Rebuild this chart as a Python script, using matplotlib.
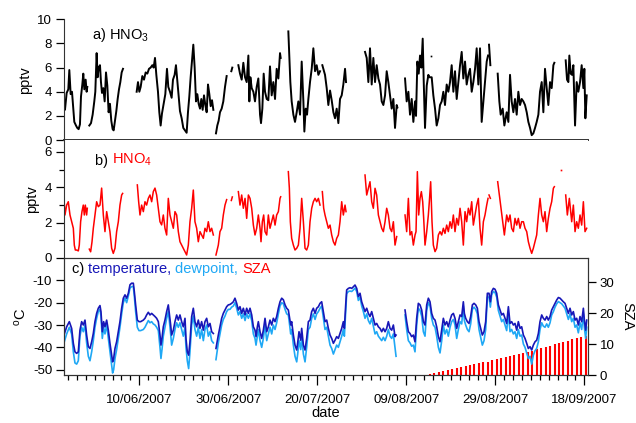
import numpy as np
import matplotlib
matplotlib.use("Agg")
import matplotlib.pyplot as plt
import matplotlib.dates as mdates
from matplotlib.ticker import FixedLocator

plt.rcParams["font.family"] = ["Liberation Sans", "DejaVu Sans"]
plt.rcParams["mathtext.fontset"] = "custom"
plt.rcParams["mathtext.rm"] = "Liberation Sans"
plt.rcParams["mathtext.default"] = "regular"
plt.rcParams["axes.unicode_minus"] = False

nan = np.nan
# days after 10/06/2007 00:00
base = mdates.date2num(np.datetime64("2007-06-10"))

hno3_day = [
    -16.92, -16.70, -16.32, -15.95, -15.72, -15.42, -15.12, -14.82, -14.60, -14.22,
    -13.93, -13.63, -13.33, -13.10, -12.80, -12.58, -12.35, -12.05, -11.83, -11.68, -11.45,
    -11.23, -10.85, -10.48, -10.11, -9.88, -9.58, -9.36, -9.13, -8.83, -8.61,
    -8.38, -8.08, -7.78, -7.48, -7.18, -6.89, -6.59, -6.29, -5.99, -5.76,
    -5.46, -5.16, -4.86, -4.56, -4.26, -3.96, -3.66, -2.0,
    -0.59, -0.29, 0.01, 0.31, 0.68, 1.06, 1.43, 1.81, 2.18, 2.55,
    2.93, 3.23, 3.53, 3.83, 4.20, 4.50, 4.80, 5.10, 5.47, 5.85,
    6.22, 6.52, 6.90, 7.27, 7.57, 7.94, 8.24, 8.54, 8.84, 9.14,
    9.52, 9.89, 10.27, 10.64, 10.94, 11.24, 11.54, 11.84, 12.14, 12.44,
    12.74, 13.04, 13.34, 13.64, 13.94, 14.24, 14.54, 14.84, 15.14, 15.44,
    15.74, 16.04, 16.34, 16.64, 16.9,
    17.23, 17.53, 17.83, 18.13, 18.51, 18.88, 19.26, 19.63, 20.2,
    20.68, 20.90, 21.5,
    22.26, 22.63, 23.01, 23.38, 23.76, 24.13, 24.51, 24.73, 24.96, 25.26,
    25.63, 26.00, 26.38, 26.75, 27.13, 27.35, 27.65, 27.95, 28.25, 28.63,
    29.00, 29.37, 29.75, 30.12, 30.50, 30.87, 31.25, 31.62, 31.77, 32.6,
    33.49, 33.72, 33.94, 34.24, 34.62, 34.99, 35.37, 35.74, 36.12, 36.49,
    36.87, 37.09, 37.39, 37.69, 37.99, 38.36, 38.74, 39.11, 39.49, 39.86,
    40.24, 40.61, 40.85,
    41.13, 41.43, 41.73, 42.11, 42.48, 42.86, 43.23, 43.61, 43.98, 44.35,
    44.73, 45.10, 45.48, 45.85, 46.23, 46.45, 48.5,
    50.72, 51.10, 51.47, 51.84, 52.22, 52.59, 52.97, 53.34, 53.72, 54.09,
    54.47, 54.84, 55.22, 55.59, 55.96, 56.34, 56.71, 57.09, 57.46, 57.84,
    57.99, 58.8,
    59.71, 60.08, 60.46, 60.83, 61.21, 61.58, 61.96, 62.18, 62.48, 62.78,
    63.08, 63.38, 63.68, 63.90, 64.20, 64.58, 64.95, 65.17, 65.70, 66.07,
    66.45, 66.82, 67.20, 67.57, 67.95, 68.32, 68.69, 69.07, 69.44, 69.82,
    70.19, 70.57, 70.94, 71.32, 71.69, 72.07, 72.44, 72.81, 73.19, 73.56,
    73.94, 74.31, 74.69, 75.06, 75.44, 75.81, 76.18, 76.56, 76.93, 77.31,
    77.68, 78.06, 78.36, 78.47, 78.58, 78.88, 79.7,
    80.53, 80.90, 81.20, 81.65, 82.03, 82.55, 82.93, 83.30, 83.67, 84.05,
    84.42, 84.80, 85.17, 85.55, 85.92, 86.30, 86.67, 87.05, 87.42, 87.80,
    88.17, 88.54, 88.92, 89.29, 89.67, 90.04, 90.42, 90.79, 91.16, 91.54,
    91.91, 92.29, 92.66, 93.04, 93.26, 94.5,
    95.81, 96.11, 96.41, 96.63, 96.93, 97.23, 97.53, 97.91, 98.28, 98.65,
    99.03, 99.40, 99.78, 100.00, 100.23, 100.53,
]
hno3_ppt = [
    3.0, 2.5, 3.9, 4.2, 5.8, 3.8, 4.0, 2.6, 1.5, 1.2,
    1.0, 0.9, 1.3, 3.6, 4.6, 5.5, 4.2, 5.0, 4.0, 4.4, nan,
    1.2, 1.4, 2.1, 3.2, 4.0, 7.2, 5.2, 6.0, 6.2, 4.8,
    3.9, 4.3, 3.2, 5.6, 4.5, 2.3, 3.0, 1.6, 0.9, 0.8,
    1.6, 2.4, 3.4, 4.2, 4.8, 5.6, 5.9, nan,
    4.0, 4.8, 4.0, 4.4, 5.3, 5.0, 5.6, 5.5, 5.9, 6.0,
    6.2, 6.0, 6.8, 5.4, 4.0, 2.3, 1.2, 2.2, 3.0, 3.8,
    5.9, 4.4, 4.0, 3.5, 5.0, 5.4, 6.2, 4.9, 3.6, 2.4,
    1.8, 1.0, 0.8, 0.6, 2.3, 3.6, 5.2, 6.6, 7.9, 6.0,
    3.2, 3.8, 3.0, 2.6, 3.4, 2.5, 3.7, 2.9, 2.3, 4.6,
    3.8, 2.8, 3.3, 2.5, nan,
    0.55, 1.2, 1.6, 2.3, 2.6, 3.2, 4.4, 5.3, nan,
    5.7, 6.0, nan,
    6.2, 5.5, 5.0, 6.4, 5.2, 4.8, 7.0, 3.2, 5.2, 4.3,
    4.0, 3.2, 4.4, 5.1, 2.1, 1.4, 2.6, 5.5, 4.0, 3.4,
    3.3, 6.1, 3.7, 4.8, 3.4, 5.9, 5.1, 7.2, 6.8, nan,
    9.0, 6.8, 4.8, 3.2, 2.1, 1.5, 2.3, 3.2, 2.1, 6.5,
    3.2, 0.7, 2.6, 2.1, 3.4, 4.8, 5.9, 7.6, 5.7, 6.2,
    5.4, 5.7, nan,
    6.2, 5.8, 5.4, 4.3, 2.9, 4.1, 3.3, 2.3, 1.8, 2.6,
    1.4, 3.4, 3.7, 4.6, 5.9, 4.8, nan,
    7.3, 6.8, 4.8, 7.6, 4.6, 6.8, 4.8, 6.2, 5.1, 4.6,
    3.2, 2.9, 3.7, 5.7, 4.8, 3.7, 2.6, 3.4, 1.0, 2.9,
    2.7, nan,
    5.1, 3.2, 4.0, 2.1, 3.4, 1.5, 3.2, 2.0, 6.5, 5.5,
    7.0, 6.0, 8.4, 5.0, 1.0, 4.5, 5.4, 5.2, 5.2, 3.7,
    2.6, 1.2, 1.8, 2.9, 3.2, 4.0, 2.9, 4.6, 4.0, 4.8,
    6.2, 4.0, 5.7, 3.4, 4.8, 6.2, 7.3, 5.1, 6.5, 4.6,
    5.4, 5.9, 4.0, 4.8, 5.9, 7.6, 4.6, 7.6, 1.5, 3.2,
    4.8, 6.5, 7.0, nan, 7.9, 6.2, nan,
    5.5, 3.2, 2.1, 2.6, 1.2, 2.3, 1.5, 5.4, 3.2, 2.3,
    3.4, 2.1, 4.0, 2.9, 3.4, 3.2, 2.9, 2.3, 1.5, 1.0,
    0.4, 0.55, 1.0, 1.5, 2.1, 4.0, 4.8, 2.3, 5.9, 4.3,
    2.9, 4.8, 4.3, 6.2, 6.4, nan,
    6.6, 5.0, 4.8, 7.0, 5.5, 5.4, 6.2, 1.2, 4.8, 4.0,
    4.8, 6.2, 4.3, 5.9, 1.8, 3.7,
]
hno3_dot_day = [65.47]
hno3_dot_ppt = [7.0]

hno4_day = [
    -16.92, -16.70, -16.32, -15.95, -15.57, -15.20, -14.82, -14.60, -14.37, -14.07,
    -13.70, -13.48, -13.18, -12.88, -12.58, -12.35, -12.13, -11.83, -11.68, -11.45,
    -11.23, -10.93, -10.63, -10.33, -9.96, -9.58, -9.21, -8.83, -8.46, -8.08,
    -7.71, -7.33, -6.96, -6.59, -6.21, -5.84, -5.46, -5.09, -4.71, -4.34,
    -3.96, -3.74, -2.0,
    -0.44, -0.14, 0.16, 0.53, 0.91, 1.28, 1.65, 2.03, 2.40, 2.78,
    3.15, 3.53, 3.90, 4.28, 4.65, 5.02, 5.40, 5.77, 6.15, 6.52,
    6.90, 7.27, 7.65, 8.02, 8.40, 8.77, 9.14, 9.52, 9.89, 10.27,
    10.64, 11.02, 11.39, 11.77, 12.14, 12.51, 12.89, 13.26, 13.64, 14.01,
    14.39, 14.76, 15.14, 15.51, 15.89, 16.26, 16.64, 16.9,
    17.23, 17.76, 18.13, 18.51, 18.88, 19.26, 19.63, 20.2,
    20.68, 20.90, 21.5,
    22.26, 22.63, 23.01, 23.38, 23.76, 24.13, 24.51, 24.88, 25.26, 25.63,
    26.00, 26.38, 26.75, 27.13, 27.35, 27.65, 27.95, 28.25, 28.63, 29.00,
    29.37, 29.75, 30.12, 30.50, 30.87, 31.25, 31.62, 31.77, 32.6,
    33.49, 33.72, 33.94, 34.24, 34.62, 34.99, 35.37, 35.74, 36.12, 36.49,
    36.87, 37.24, 37.61, 37.99, 38.36, 38.74, 39.11, 39.49, 39.86, 40.24,
    40.61, 40.85,
    41.13, 41.43, 41.73, 42.11, 42.48, 42.86, 43.23, 43.61, 43.98, 44.35,
    44.73, 45.10, 45.48, 45.85, 46.23, 46.45, 48.5,
    50.72, 51.10, 51.47, 51.84, 52.22, 52.59, 52.97, 53.34, 53.72, 54.09,
    54.47, 54.84, 55.22, 55.59, 55.96, 56.34, 56.71, 57.09, 57.46, 57.84, 58.8,
    59.71, 60.08, 60.46, 60.83, 61.21, 61.58, 61.96, 62.18, 62.48, 62.78,
    63.08, 63.38, 63.68, 63.90, 64.20, 64.58, 64.95, 65.17, 65.47, 65.77,
    66.07, 66.45, 66.82, 67.20, 67.57, 67.95, 68.32, 68.69, 69.07, 69.44,
    69.82, 70.19, 70.57, 70.94, 71.32, 71.69, 72.07, 72.44, 72.81, 73.19,
    73.56, 73.94, 74.31, 74.69, 75.06, 75.44, 75.81, 76.18, 76.56, 76.93,
    77.31, 77.68, 78.06, 78.36, 78.47, 78.58, 78.88, 79.7,
    80.53, 80.90, 81.20, 81.65, 82.03, 82.55, 82.93, 83.30, 83.67, 84.05,
    84.42, 84.80, 85.17, 85.55, 85.92, 86.30, 86.67, 87.05, 87.42, 87.80,
    88.17, 88.54, 88.92, 89.29, 89.67, 90.04, 90.42, 90.79, 91.16, 91.54,
    91.91, 92.29, 92.66, 93.04, 93.26, 94.5,
    95.81, 96.18, 96.63, 97.16, 97.53, 97.91, 98.28, 98.65, 99.03, 99.40,
    99.78, 100.15, 100.53,
]
hno4_ppt = [
    3.37, 2.43, 2.99, 3.18, 2.43, 2.05, 1.68, 0.73, 0.45, 0.45,
    0.40, 0.73, 2.05, 2.62, 2.99, 2.43, 2.99, 2.43, 2.81, nan,
    0.50, 0.35, 0.90, 1.68, 2.43, 3.18, 2.90, 2.99, 3.95, 2.43,
    1.49, 2.62, 2.05, 1.49, 0.55, 0.26, 0.55, 1.49, 2.05, 2.99,
    3.56, 3.65, nan,
    4.13, 3.18, 2.43, 2.99, 2.62, 3.18, 2.99, 3.37, 3.56, 3.18,
    3.75, 3.95, 3.56, 2.81, 2.05, 1.87, 2.43, 1.68, 1.30, 3.37,
    2.43, 2.05, 1.68, 2.62, 2.43, 1.49, 0.92, 0.73, 0.55, 0.36,
    0.17, 0.73, 2.05, 2.81, 3.84, 2.05, 1.68, 0.92, 1.49, 1.30,
    1.11, 1.68, 1.49, 2.05, 1.49, 1.68, 1.30, nan,
    0.17, 0.73, 1.49, 1.68, 2.43, 2.99, 3.30, nan,
    3.25, 3.45, nan,
    3.75, 2.99, 3.56, 2.81, 3.37, 2.24, 3.56, 3.37, 2.81, 1.86,
    1.30, 1.68, 2.43, 1.68, 0.92, 2.05, 2.43, 1.49, 1.30, 2.43,
    1.68, 2.05, 2.43, 1.86, 2.43, 2.62, 3.37, 3.46, nan,
    4.88, 3.94, 2.05, 1.11, 0.73, 0.45, 0.55, 0.73, 1.68, 3.37,
    2.05, 0.55, 0.45, 0.73, 2.05, 2.81, 3.18, 3.37, 3.18, 3.37,
    2.99, nan,
    3.75, 2.81, 2.43, 2.05, 1.68, 1.86, 1.30, 0.92, 0.73, 1.11,
    1.30, 2.05, 3.18, 2.43, 2.99, 2.62, nan,
    4.69, 3.56, 3.94, 4.31, 3.18, 2.81, 3.94, 3.56, 2.43, 2.05,
    1.68, 1.49, 2.05, 2.81, 2.43, 1.68, 1.49, 2.05, 0.73, 1.21, nan,
    2.43, 1.49, 3.37, 1.30, 1.49, 0.73, 1.30, 1.49, 4.88, 2.43,
    3.37, 3.75, 3.18, 2.24, 0.73, 1.49, 2.43, 3.18, 4.31, 2.05,
    0.73, 0.36, 0.55, 1.30, 1.49, 1.30, 1.68, 1.39, 1.86, 1.49,
    2.05, 1.68, 2.43, 1.49, 2.24, 1.86, 2.81, 2.05, 0.73, 2.62,
    2.05, 2.81, 2.43, 3.18, 1.86, 2.43, 2.99, 3.37, 1.68, 0.73,
    2.05, 2.43, 2.99, 3.37, nan, 3.56, 3.37, nan,
    4.31, 3.56, 2.99, 2.05, 1.30, 2.43, 2.05, 2.43, 1.68, 1.49,
    2.24, 1.86, 2.24, 1.68, 2.05, 2.05, 1.68, 1.49, 0.92, 0.55,
    0.26, 0.55, 0.92, 1.30, 2.43, 3.37, 2.43, 2.05, 2.62, 1.49,
    2.24, 2.81, 3.18, 3.94, 4.03, nan,
    3.56, 2.43, 3.37, 2.05, 2.99, 1.49, 2.05, 1.68, 2.43, 1.86,
    3.18, 1.49, 1.68,
]
hno4_dot_day = [94.83]
hno4_dot_ppt = [4.97]

met_day = [
    -16.92, -16.32, -15.72, -15.20, -14.82, -14.45, -14.07, -13.70, -13.33, -12.95,
    -12.58, -12.20, -11.83, -11.45, -11.08, -10.70, -10.33, -9.96, -9.58, -9.21,
    -8.83, -8.61, -8.31, -8.01, -7.71, -7.33, -6.96, -6.59, -6.21, -5.99,
    -5.76, -5.46, -5.09, -4.71, -4.34, -3.96, -3.59, -3.21, -2.84, -2.46,
    -2.09, -1.72, -1.34, -1.12, -0.82, -0.44, -0.07, 0.31, 0.91, 1.28,
    1.65, 2.03, 2.40, 2.78, 3.15, 3.53, 3.90, 4.28, 4.65, 4.87,
    5.10, 5.40, 5.77, 6.15, 6.52, 6.75, 7.05, 7.27, 7.65, 8.02,
    8.40, 8.77, 9.14, 9.52, 9.89, 10.27, 10.49, 10.79, 11.09, 11.39,
    11.77, 12.14, 12.51, 12.89, 13.26, 13.64, 14.01, 14.39, 14.76, 15.14,
    15.51, 15.89, 16.26, 16.64, 16.9, 17.23, 17.76, 18.13, 18.51, 18.88,
    19.26, 19.63, 20.00, 20.38, 20.75, 21.13, 21.50,
    21.88, 22.26, 22.63, 23.01, 23.38, 23.76, 24.13, 24.51, 24.88, 25.26,
    25.63, 26.00, 26.23, 26.53, 26.75, 27.13, 27.50, 27.88, 28.25, 28.63,
    29.00, 29.37, 29.75, 30.12, 30.50, 30.87, 31.25, 31.62, 32.00, 32.37,
    32.75, 33.12, 33.49, 33.72, 34.02, 34.24, 34.62, 34.99, 35.37, 35.59,
    35.89, 36.27, 36.49, 36.87, 37.24, 37.61, 37.99, 38.36, 38.74, 39.11,
    39.49, 39.86, 40.24, 40.61, 40.98, 41.36, 41.73, 42.11, 42.48, 42.86,
    43.23, 43.61, 43.98, 44.35, 44.73, 45.10, 45.48, 45.85, 46.08, 46.38,
    46.60, 46.98, 47.35, 47.73, 48.10, 48.47, 48.85, 49.22, 49.60, 49.97,
    50.35, 50.72, 51.10, 51.47, 51.84, 52.22, 52.59, 52.97, 53.34, 53.72,
    54.09, 54.47, 54.84, 55.22, 55.59, 55.96, 56.34, 56.71, 57.09, 57.46,
    57.69, 58.7, 59.71, 60.08, 60.46,
    60.83, 61.20, 61.58, 61.95, 62.33, 62.70, 63.08, 63.45, 63.83, 64.20,
    64.58, 64.95, 65.32, 65.70, 66.07, 66.45, 66.82, 67.20, 67.57, 67.95,
    68.32, 68.69, 69.07, 69.44, 69.82, 70.19, 70.57, 70.94, 71.32, 71.69,
    72.07, 72.44, 72.81, 73.04, 73.34, 73.71, 74.09, 74.46, 74.84, 75.21,
    75.59, 75.96, 76.33, 76.71, 77.08, 77.46, 77.83, 78.21, 78.58, 78.88,
    79.18, 79.56, 79.93, 80.30, 80.68, 81.05, 81.43, 81.80, 82.18, 82.55,
    82.93, 83.30, 83.67, 84.05, 84.42, 84.80, 85.17, 85.55, 85.92, 86.30,
    86.67, 87.05, 87.42, 87.80, 88.17, 88.54, 88.92, 89.29, 89.67, 90.04,
    90.42, 90.79, 91.16, 91.54, 91.91, 92.29, 92.66, 93.04, 93.41, 93.79,
    94.16, 94.54, 94.91, 95.28, 95.66, 96.03, 96.41, 96.78, 97.16, 97.53,
    97.91, 98.28, 98.65, 99.03, 99.40, 99.78, 100.00, 100.30, 100.53,
]
temperature = [
    -34.5, -30.8, -28.5, -31.5, -38.2, -42.0, -42.7, -42.0, -32.3, -28.5,
    -30.0, -27.8, -34.5, -39.7, -40.5, -37.5, -33.8, -28.5, -24.8, -22.5,
    -21.3, -24.0, -33.0, -28.5, -30.8, -27.8, -32.3, -38.2, -43.5, -46.5,
    -45.0, -40.5, -37.5, -33.0, -28.5, -22.5, -18.0, -16.5, -18.0, -15.8,
    -12.0, -11.3, -11.3, -15.0, -21.0, -27.8, -28.5, -28.5, -27.8, -27.0,
    -25.5, -24.3, -25.5, -24.8, -25.5, -26.2, -27.0, -28.5, -34.5, -39.0,
    -36.0, -30.8, -27.8, -24.0, -21.0, -24.8, -30.0, -34.5, -32.3, -28.5,
    -25.5, -27.8, -25.5, -28.5, -30.8, -27.0, -36.0, -42.0, -43.5, -37.5,
    -26.2, -22.5, -28.5, -30.8, -27.8, -31.5, -28.5, -32.3, -28.5, -27.0,
    -30.8, -29.3, -33.0, -33.8, nan, -40.5, -34.5, -30.8, -27.0, -24.8,
    -23.3, -21.8, -21.0, -20.8, -20.3, -19.6, -18.0,
    -20.3, -23.3, -21.8, -24.8, -22.5, -25.5, -22.5, -24.8, -22.5, -25.5,
    -30.8, -32.3, -35.2, -30.8, -28.5, -33.0, -36.0, -32.3, -27.0, -33.0,
    -30.8, -27.8, -30.0, -27.0, -28.5, -26.2, -22.5, -19.6, -18.0, -18.7,
    -21.0, -22.5, -23.3, -26.2, -30.0, -28.5, -34.5, -39.0, -41.2, -38.0,
    -33.0, -36.8, -31.5, -39.0, -41.2, -36.0, -28.5, -27.8, -24.0, -22.5,
    -24.8, -22.5, -21.8, -20.3, -19.6, -24.0, -28.5, -27.8, -31.5, -34.5,
    -36.0, -38.2, -36.8, -35.2, -36.0, -33.8, -31.5, -28.5, -31.5, -21.0,
    -14.3, -13.6, -13.3, -13.6, -12.9, -12.1, -13.6, -17.3, -15.8, -19.6,
    -21.8, -24.0, -22.5, -24.8, -26.2, -24.0, -27.0, -30.0, -29.3, -30.8,
    -31.5, -33.0, -31.5, -33.0, -31.5, -28.5, -31.5, -32.3, -30.0, -35.2,
    -34.5, nan, -23.3, -28.5, -33.0,
    -33.8, -35.2, -34.5, -37.5, -27.0, -20.3, -21.0, -23.3, -28.5, -30.0,
    -21.0, -18.0, -19.6, -24.8, -27.0, -27.8, -30.8, -35.2, -37.5, -32.3,
    -27.0, -30.0, -28.5, -30.8, -27.8, -25.5, -24.8, -27.0, -31.5, -28.5,
    -25.5, -26.2, -19.6, -24.8, -27.0, -28.5, -29.3, -26.2, -21.0, -20.3,
    -21.0, -22.5, -28.5, -31.5, -34.5, -33.0, -28.5, -15.8, -15.8, -19.6,
    -15.0, -13.6, -14.0, -15.8, -21.0, -23.3, -25.5, -24.8, -27.0, -29.3,
    -21.8, -29.3, -28.5, -30.0, -29.3, -32.3, -28.5, -31.5, -30.8, -34.5,
    -36.0, -38.2, -40.5, -39.7, -41.2, -39.0, -37.5, -36.8, -33.8, -28.5,
    -25.5, -27.0, -27.8, -26.2, -27.8, -26.2, -23.3, -21.8, -20.3, -18.8,
    -17.7, -18.0, -18.8, -19.6, -20.3, -22.5, -24.8, -22.5, -25.5, -24.0,
    -27.8, -27.0, -30.0, -26.2, -28.5, -22.5, -27.8, -32.3, -27.8,
]
dewpoint = [
    -38.0, -34.0, -31.0, -34.0, -42.0, -47.0, -47.5, -46.0, -35.0, -31.0,
    -33.0, -30.0, -38.0, -44.0, -46.0, -42.0, -37.0, -31.0, -27.0, -24.0,
    -23.0, -26.0, -36.0, -31.0, -34.0, -30.0, -36.0, -42.0, -48.0, -51.5,
    -50.0, -45.0, -41.0, -36.0, -31.0, -25.0, -20.0, -18.0, -20.0, -17.0,
    -13.5, -12.8, -12.8, -17.0, -24.0, -31.0, -32.5, -32.5, -32.0, -31.0,
    -29.5, -28.0, -29.0, -28.5, -29.5, -30.0, -31.0, -32.5, -40.0, -45.0,
    -41.0, -35.0, -31.0, -27.0, -24.0, -28.0, -34.0, -39.0, -36.0, -32.0,
    -29.0, -31.0, -29.0, -32.0, -35.0, -31.0, -40.0, -46.0, -49.5, -42.0,
    -30.0, -26.0, -32.0, -35.0, -31.0, -36.0, -32.0, -37.0, -32.0, -30.0,
    -35.0, -33.0, -37.0, -38.0, nan, -45.5, -38.0, -34.0, -30.0, -27.5,
    -26.0, -24.0, -23.0, -23.0, -22.0, -21.5, -20.0,
    -22.5, -25.5, -24.0, -27.0, -25.0, -28.0, -25.0, -27.0, -25.0, -28.0,
    -34.0, -36.0, -39.0, -35.0, -32.0, -37.0, -40.0, -36.0, -30.0, -37.0,
    -34.0, -31.0, -34.0, -30.0, -32.0, -29.0, -25.0, -21.5, -20.0, -20.5,
    -23.0, -25.0, -25.5, -29.0, -34.0, -32.0, -39.0, -44.0, -46.5, -43.0,
    -37.0, -41.0, -35.0, -43.0, -46.5, -40.0, -32.0, -31.0, -27.0, -25.0,
    -27.5, -25.0, -24.0, -22.5, -21.5, -27.0, -32.0, -31.0, -35.0, -39.0,
    -40.5, -43.0, -41.0, -39.0, -40.0, -37.5, -35.0, -32.0, -35.0, -23.5,
    -16.0, -15.0, -14.8, -15.0, -14.3, -13.5, -15.0, -19.0, -17.5, -21.5,
    -24.0, -27.0, -25.0, -28.0, -29.5, -27.0, -30.5, -34.0, -33.0, -35.0,
    -36.0, -37.0, -35.5, -37.0, -35.0, -32.0, -35.0, -36.0, -34.0, -40.0,
    -44.0, nan, -25.5, -32.0, -37.0,
    -38.0, -39.5, -39.0, -42.0, -30.0, -22.5, -23.5, -26.0, -33.0, -35.0,
    -23.5, -20.0, -21.5, -27.0, -30.0, -31.0, -35.0, -40.0, -42.5, -37.0,
    -30.0, -34.0, -32.0, -35.0, -31.0, -28.5, -27.5, -30.0, -36.0, -32.0,
    -28.5, -29.5, -21.5, -28.0, -30.0, -32.0, -33.0, -29.5, -23.0, -22.0,
    -23.0, -25.0, -32.0, -35.5, -39.0, -37.0, -32.0, -17.5, -17.5, -22.0,
    -16.5, -15.0, -15.5, -17.5, -23.5, -26.0, -28.5, -27.5, -30.0, -32.5,
    -24.5, -33.0, -32.0, -34.0, -33.0, -36.0, -32.0, -35.0, -34.5, -38.5,
    -40.0, -42.5, -45.0, -44.0, -47.5, -43.5, -41.5, -40.5, -37.5, -32.0,
    -29.0, -30.5, -31.0, -29.5, -31.0, -29.0, -25.5, -24.0, -22.0, -20.5,
    -19.5, -20.0, -20.5, -21.5, -22.5, -25.0, -27.5, -25.0, -28.5, -27.0,
    -31.0, -30.0, -33.5, -29.0, -32.0, -25.0, -31.0, -36.0, -31.0,
]

# daily SZA peaks, 14/08/2007 .. 18/09/2007
sza_day = np.arange(65, 101) + 0.3
sza_peak = [
    0.6, 0.9, 1.2, 1.5, 1.8, 2.1, 2.4, 2.7, 3.0, 3.3,
    3.6, 3.9, 4.2, 4.5, 4.85, 5.2, 5.55, 5.9, 6.25, 6.6,
    6.95, 7.3, 7.65, 8.0, 8.4, 8.8, 9.2, 9.6, 10.0, 10.4,
    10.8, 11.2, 11.6, 12.0, 12.4, 12.8,
]

date_ticks = [0, 20, 40, 60, 80, 100]

fs_tick = 9.5
fs_lab = 10.5
dark_blue = "#1717b8"
light_blue = "#1fa8f5"

fig = plt.figure(figsize=(6.36, 4.23), dpi=100)
L, W = 0.1006, 0.8235
ax_a = fig.add_axes([L, 0.669, W, 0.2853])
ax_b = fig.add_axes([L, 0.3901, W, 0.2790], sharex=ax_a)
ax_c = fig.add_axes([L, 0.1123, W, 0.2778], sharex=ax_a)
ax_s = ax_c.twinx()

ax_a.plot(base + np.array(hno3_day), hno3_ppt, color="black", lw=1.4)
ax_a.plot(base + np.array(hno3_dot_day), hno3_dot_ppt, "s", color="black", ms=1.2, mew=0)
ax_b.plot(base + np.array(hno4_day), hno4_ppt, color="red", lw=1.1)
ax_b.plot(base + np.array(hno4_dot_day), hno4_dot_ppt, "s", color="red", ms=1.2, mew=0)
ax_c.plot(base + np.array(met_day), dewpoint, color=light_blue, lw=1.2)
ax_c.plot(base + np.array(met_day), temperature, color=dark_blue, lw=1.2)
ax_s.vlines(base + sza_day, 0, sza_peak, color="red", lw=1.5)

ax_c.set_zorder(ax_s.get_zorder() + 1)
ax_c.patch.set_visible(False)

ax_a.set_xlim(base - 16.92, base + 100.76)
ax_a.set_ylim(0, 10)
ax_b.set_ylim(0, 6.67)
ax_c.set_ylim(-52.6, 0)
ax_s.set_ylim(0, 37.8)

ax_a.set_yticks([0, 2, 4, 6, 8, 10])
ax_b.set_yticks([0, 2, 4, 6])
ax_b.set_yticks([1, 3, 5], minor=True)
ax_c.set_yticks([-50, -40, -30, -20, -10])
ax_s.set_yticks([0, 10, 20, 30])

ax_c.xaxis.set_major_locator(FixedLocator([base + d for d in date_ticks]))
ax_c.xaxis.set_minor_locator(FixedLocator(base + np.arange(-16, 101, 2)))
ax_c.xaxis.set_major_formatter(mdates.DateFormatter("%d/%m/%Y"))

for ax in (ax_a, ax_b):
    ax.spines["top"].set_visible(False)
    ax.spines["right"].set_visible(False)
    ax.tick_params(axis="x", which="both", bottom=False, labelbottom=False)
ax_b.spines["bottom"].set_visible(False)
ax_a.spines["bottom"].set_linewidth(1.4)
ax_a.spines["bottom"].set_color("#333333")

for ax in (ax_a, ax_b, ax_c, ax_s):
    ax.tick_params(which="major", direction="out", length=6, width=0.9, labelsize=fs_tick, pad=2.5)
    ax.tick_params(which="minor", direction="out", length=3.5, width=0.9)
    for s in ax.spines.values():
        s.set_color("#333333")
ax_c.tick_params(axis="x", which="major", length=7, pad=6.5)

ax_a.set_ylabel("pptv", fontsize=fs_lab, labelpad=4)
ax_b.set_ylabel("pptv", fontsize=fs_lab, labelpad=4)
ax_c.set_ylabel("$^{o}$C", fontsize=fs_lab, labelpad=3)
ax_s.set_ylabel("SZA", fontsize=fs_lab, rotation=270, labelpad=14)
ax_c.set_xlabel("date", fontsize=fs_lab, labelpad=0)

ax_a.text(0.053, 0.834, "a) HNO$_3$", transform=ax_a.transAxes, fontsize=fs_lab, va="baseline")
tb = ax_b.text(0.059, 0.788, "b) ", transform=ax_b.transAxes, fontsize=fs_lab, va="baseline")
ax_b.annotate("HNO$_4$", xy=(1, 0), xycoords=tb, va="bottom", fontsize=fs_lab, color="red")

t1 = ax_c.text(0.0147, 0.872, "c) ", transform=ax_c.transAxes, fontsize=fs_lab, va="baseline")
t2 = ax_c.annotate("temperature, ", xy=(1, 0), xycoords=t1, va="bottom", fontsize=fs_lab, color=dark_blue)
t3 = ax_c.annotate("dewpoint, ", xy=(1, 0), xycoords=t2, va="bottom", fontsize=fs_lab, color=light_blue)
ax_c.annotate("SZA", xy=(1, 0), xycoords=t3, va="bottom", fontsize=fs_lab, color="red")

fig.savefig("out.png", dpi=100)
